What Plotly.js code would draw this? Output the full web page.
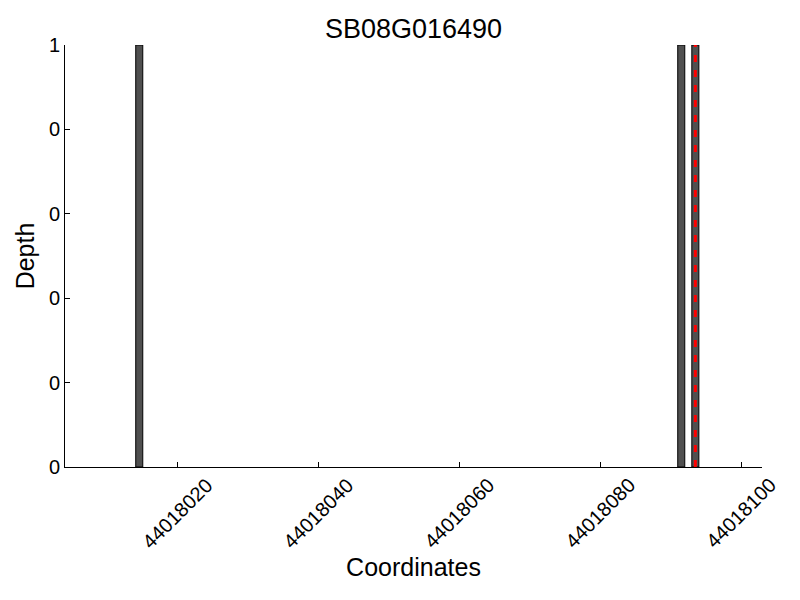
<!DOCTYPE html>
<html>
<head>
<meta charset="utf-8">
<script src="https://cdn.plot.ly/plotly-3.0.1.min.js"></script>
<style>html,body{margin:0;padding:0;background:#fff;}#chart{width:800px;height:600px;}</style>
</head>
<body>
<div id="chart"></div>
<script>
// Data
const positions = [44018014, 44018091, 44018093];
const depths = [1, 1, 1];
const markerPosition = [44018093.5, 44018093.5];
const markerDepth = [0, 1];
const yTickVals = [0, 0.2, 0.4, 0.6, 0.8, 1];
const yTickText = ["0", "0", "0", "0", "0", "1"];
const xTickVals = [44018020, 44018040, 44018060, 44018080, 44018100];
const xTickText = ["44018020", "44018040", "44018060", "44018080", "44018100"];

const font = "Liberation Sans, Arial, sans-serif";

const traces = [
  {
    type: "bar",
    x: positions,
    y: depths,
    width: 1,
    offset: 0,
    marker: { color: "rgb(80,80,80)", line: { color: "#000", width: 1 } },
    hoverinfo: "skip"
  },
  {
    type: "scatter",
    mode: "lines",
    x: markerPosition,
    y: markerDepth,
    line: { color: "#ff0000", width: 3, dash: "7px,8px" },
    hoverinfo: "skip"
  }
];

// rotated tick labels centred on their ticks (as in the reference)
const tickAnnotations = xTickVals.map((v, i) => ({
  x: v, xref: "x",
  y: -0.11, yref: "paper",
  text: xTickText[i],
  textangle: -45,
  showarrow: false,
  xanchor: "center", yanchor: "middle",
  font: { family: font, size: 20, color: "#000" }
}));

const layout = {
  width: 800,
  height: 600,
  margin: { l: 65, r: 38, t: 45, b: 133 },
  paper_bgcolor: "#fff",
  plot_bgcolor: "#fff",
  showlegend: false,
  bargap: 0,
  annotations: tickAnnotations,
  title: { text: "SB08G016490", font: { family: font, size: 27, color: "#000" }, xref: "paper", x: 0.5, xanchor: "center", y: 0.953, yanchor: "middle" },
  xaxis: {
    range: [44018003.95, 44018102.97],
    tickvals: xTickVals,
    ticktext: xTickText,
    showticklabels: false,
    ticks: "inside",
    ticklen: 5,
    tickcolor: "#000",
    showgrid: false,
    zeroline: false,
    showline: true,
    linecolor: "#000",
    linewidth: 1,
    tickfont: { family: font, size: 20, color: "#000" },
    title: { text: "Coordinates", font: { family: font, size: 25, color: "#000" }, standoff: 91 }
  },
  yaxis: {
    range: [0, 1],
    tickvals: yTickVals,
    ticktext: yTickText,
    ticks: "inside",
    ticklen: 5,
    tickcolor: "#000",
    showgrid: false,
    zeroline: false,
    showline: true,
    linecolor: "#000",
    linewidth: 1,
    tickfont: { family: font, size: 20, color: "#000" },
    title: { text: "Depth", font: { family: font, size: 25, color: "#000" }, standoff: 7 }
  }
};

Plotly.newPlot("chart", traces, layout, { staticPlot: true, displayModeBar: false });
</script>
</body>
</html>
